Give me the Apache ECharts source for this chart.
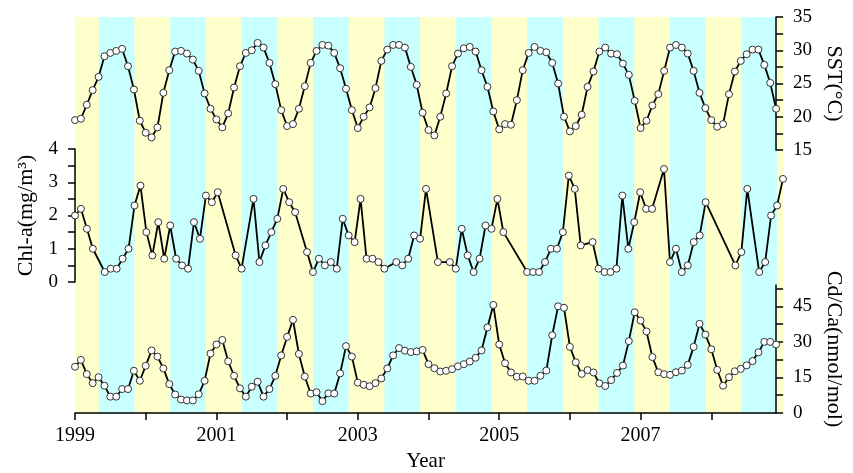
<!DOCTYPE html>
<html>
<head>
  <meta charset="utf-8" />
  <title>SST, Chl-a and Cd/Ca</title>
  <script src="https://cdn.jsdelivr.net/npm/echarts@6.0.0/dist/echarts.min.js"></script>
  <style>
    html, body { margin: 0; padding: 0; background: #fff; }
    #main { width: 853px; height: 473px; }
  </style>
</head>
<body>
  <div id="main"></div>
  <script>
    // monthly series, Jan 1999 .. Dec 2008
    var startYear = 1999;

    // SST (°C)
    var sst = [
      19.5, 19.7, 21.8, 24.0, 26.0, 29.1, 29.6, 29.9, 30.2, 27.6, 24.1, 19.4,
      17.6, 16.9, 18.4, 23.6, 27.0, 29.8, 29.9, 29.5, 28.6, 26.9, 23.5, 21.2,
      19.6, 18.4, 20.5, 24.4, 27.6, 29.6, 30.0, 31.1, 30.4, 28.1, 24.9, 21.0,
      18.6, 18.9, 21.2, 24.6, 28.1, 29.9, 30.8, 30.7, 29.6, 27.3, 24.2, 21.0,
      18.3, 20.0, 21.4, 24.3, 28.4, 30.1, 30.8, 30.8, 30.4, 27.5, 24.8, 20.6,
      18.0, 17.2, 20.0, 23.5, 27.6, 29.5, 30.3, 30.5, 29.8, 27.0, 24.5, 20.8,
      18.1, 18.9, 18.8, 22.5, 27.0, 29.6, 30.5, 29.9, 29.7, 28.1, 25.0, 20.0,
      17.8, 18.6, 20.3, 24.5, 26.8, 29.8, 30.4, 29.5, 29.4, 28.0, 26.3, 22.4,
      18.3, 19.4, 21.7, 23.4, 26.9, 30.4, 30.8, 30.4, 29.5, 26.9, 23.6, 21.3,
      19.5, 18.5, 18.9, 23.4, 26.8, 28.4, 29.4, 30.1, 30.1, 27.8, 25.1, 21.2
    ];

    // Chl-a (mg/m3), only the months that have a value (0 = Jan 1999)
    var chlMonth = [
      0, 1, 2, 3, 5, 6, 7, 8, 9, 10, 11,
      12, 13, 14, 15, 16, 17, 18, 19, 20, 21, 22, 23,
      24, 27, 28, 30, 31, 32, 33, 34, 35,
      36, 37, 39, 40, 41, 42, 43, 44, 45, 46, 47,
      48, 49, 50, 51, 52, 54, 55, 56, 57, 58, 59,
      61, 63, 64, 65, 66, 67, 68, 69, 70, 71,
      72, 76, 77, 78, 79, 80, 81, 82, 83,
      84, 85, 87, 88, 89, 90, 91, 92, 93, 94, 95,
      96, 97, 99, 100, 101, 102, 103, 104, 105, 106,
      111, 112, 113, 115, 116, 117, 118, 119
    ];
    var chlValue = [
      2.0, 2.2, 1.6, 1.0, 0.3, 0.4, 0.4, 0.7, 1.0, 2.3, 2.9,
      1.5, 0.8, 1.8, 0.7, 1.7, 0.7, 0.5, 0.4, 1.8, 1.3, 2.6, 2.4,
      2.7, 0.8, 0.4, 2.5, 0.6, 1.1, 1.5, 1.9, 2.8,
      2.4, 2.1, 0.9, 0.3, 0.7, 0.5, 0.6, 0.4, 1.9, 1.4, 1.2,
      2.5, 0.7, 0.7, 0.6, 0.4, 0.6, 0.5, 0.7, 1.4, 1.3, 2.8,
      0.6, 0.6, 0.4, 1.6, 0.8, 0.3, 0.7, 1.7, 1.6, 2.5,
      1.5, 0.3, 0.3, 0.3, 0.6, 1.0, 1.0, 1.5, 3.2,
      2.8, 1.1, 1.2, 0.4, 0.3, 0.3, 0.4, 2.6, 1.0, 1.8, 2.7,
      2.2, 2.2, 3.4, 0.6, 1.0, 0.3, 0.5, 1.2, 1.4, 2.4,
      0.5, 0.9, 2.8, 0.3, 0.6, 2.0, 2.3, 3.1
    ];

    // Cd/Ca (nmol/mol)
    var cdca = [
      19.5, 22.4, 16.4, 12.6, 15.1, 11.5, 6.9, 6.9, 10.1, 10.1, 17.8, 13.6,
      19.9, 26.4, 23.8, 18.8, 12.2, 7.8, 5.7, 5.3, 5.3, 7.9, 13.6, 25.1,
      28.9, 30.8, 21.8, 15.7, 10.4, 6.9, 11.1, 13.2, 6.9, 10.1, 15.7, 24.3,
      32.1, 39.3, 24.9, 15.4, 8.2, 8.8, 5.0, 8.3, 8.2, 16.7, 28.2, 23.8,
      12.8, 11.9, 11.3, 12.6, 14.6, 18.8, 24.3, 27.4, 26.3, 25.7, 26.0, 26.6,
      20.6, 18.9, 17.5, 17.8, 18.5, 19.7, 20.6, 21.7, 23.3, 26.4, 36.1, 45.6,
      28.9, 21.0, 17.1, 15.3, 15.4, 13.6, 13.6, 15.7, 17.9, 32.8, 45.0, 44.4,
      27.9, 21.4, 16.5, 18.1, 17.1, 12.5, 11.4, 13.9, 16.9, 20.0, 30.3, 42.5,
      39.0, 34.4, 23.6, 17.2, 16.4, 16.1, 17.2, 17.9, 20.3, 27.9, 37.6, 33.1,
      26.9, 18.2, 11.5, 15.1, 17.6, 18.6, 20.1, 21.9, 25.6, 30.0, 30.0, 28.9
    ];

    // axis ticks / labels
    var yearTicks = [1999, 2000, 2001, 2002, 2003, 2004, 2005, 2006, 2007, 2008];
    var yearLabels = [1999, 2001, 2003, 2005, 2007];
    var cdTicks = [0, 7.5, 15, 22.5, 30, 37.5, 45, 52.5];
    var cdLabels = [0, 15, 30, 45];

    // cyan bands: May - Oct of every year
    var bandStartMonth = 4;
    var bandEndMonth = 10;

    function monthToYear(i) {
      return startYear + i / 12;
    }

    var sstData = sst.map(function (v, i) { return [monthToYear(i), v]; });
    var chlData = chlMonth.map(function (m, k) { return [monthToYear(m), chlValue[k]]; });
    var cdData = cdca.map(function (v, i) { return [monthToYear(i), v]; });
    var bands = yearTicks.map(function (y) {
      return [y + bandStartMonth / 12, y + bandEndMonth / 12];
    });

    var xMin = startYear;
    var xMax = monthToYear(sst.length - 1);

    var font = 'Liberation Serif';
    var black = '#000';

    var lineStyleOf = {
      type: 'line',
      symbol: 'circle',
      symbolSize: 7,
      showAllSymbol: true,
      itemStyle: { color: '#fff', borderColor: '#333', borderWidth: 1 },
      lineStyle: { color: black, width: 1.8 },
      z: 3
    };

    function xAxisHidden(gi) {
      return { type: 'value', gridIndex: gi, min: xMin, max: xMax, show: false };
    }

    var myChart = echarts.init(document.getElementById('main'), null, { renderer: 'canvas' });

    var option = {
      animation: false,
      backgroundColor: '#fff',
      grid: [
        // background (yellow, cyan bands drawn on top)
        { left: 75, right: 70, top: 17, bottom: 59, show: true, backgroundColor: '#FFFFCC', borderWidth: 0 },
        // SST
        { left: 75, right: 70, top: 17, bottom: 323 },
        // Chl-a
        { left: 75, right: 70, top: 149, bottom: 191 },
        // Cd/Ca
        { left: 75, right: 70, top: 285, bottom: 59 }
      ],
      xAxis: [
        xAxisHidden(0),
        xAxisHidden(1),
        xAxisHidden(2),
        {
          type: 'value', gridIndex: 3, min: xMin, max: xMax,
          name: 'Year', nameLocation: 'middle', nameGap: 38,
          nameTextStyle: { fontFamily: font, fontSize: 21, color: black },
          axisLine: { lineStyle: { color: black, width: 1.5 } },
          axisTick: { length: 7, lineStyle: { color: black, width: 1.5 }, customValues: yearTicks },
          axisLabel: {
            customValues: yearLabels, fontFamily: font, fontSize: 20, color: black, margin: 13,
            formatter: function (v) { return String(Math.round(v)); }
          },
          splitLine: { show: false }
        }
      ],
      yAxis: [
        { type: 'value', gridIndex: 0, min: 0, max: 1, show: false },
        {
          type: 'value', gridIndex: 1, position: 'right', min: 15, max: 35, interval: 2.5,
          name: 'SST(°C)', nameLocation: 'middle', nameRotate: -90, nameGap: 40,
          nameTextStyle: { fontFamily: font, fontSize: 22, color: black },
          axisLine: { show: true, lineStyle: { color: black, width: 1.5 } },
          axisTick: { show: true, length: 7, lineStyle: { color: black, width: 1.5 } },
          axisLabel: {
            fontFamily: font, fontSize: 19, color: black, margin: 17,
            formatter: function (v) { return v % 5 === 0 ? String(v) : ''; }
          },
          splitLine: { show: false }
        },
        {
          type: 'value', gridIndex: 2, position: 'left', min: 0, max: 4, interval: 0.5,
          name: 'Chl-a(mg/m³)', nameLocation: 'middle', nameRotate: 90, nameGap: 36,
          nameTextStyle: { fontFamily: font, fontSize: 22, color: black },
          axisLine: { show: true, lineStyle: { color: black, width: 1.5 } },
          axisTick: { show: true, length: 7, lineStyle: { color: black, width: 1.5 } },
          axisLabel: {
            fontFamily: font, fontSize: 19, color: black, margin: 17,
            formatter: function (v) { return v % 1 === 0 ? String(v) : ''; }
          },
          splitLine: { show: false }
        },
        {
          type: 'value', gridIndex: 3, position: 'right', min: 0, max: 54,
          name: 'Cd/Ca(nmol/mol)', nameLocation: 'middle', nameRotate: -90, nameGap: 40,
          nameTextStyle: { fontFamily: font, fontSize: 22, color: black },
          axisLine: { show: true, lineStyle: { color: black, width: 1.5 } },
          axisTick: { show: true, length: 7, lineStyle: { color: black, width: 1.5 }, customValues: cdTicks },
          axisLabel: { customValues: cdLabels, fontFamily: font, fontSize: 19, color: black, margin: 17 },
          splitLine: { show: false }
        }
      ],
      series: [
        {
          type: 'custom',
          xAxisIndex: 0,
          yAxisIndex: 0,
          z: 0,
          silent: true,
          data: bands,
          encode: { x: [0, 1] },
          renderItem: function (params, api) {
            var p0 = api.coord([api.value(0), 1]);
            var p1 = api.coord([api.value(1), 0]);
            return {
              type: 'rect',
              shape: { x: p0[0], y: p0[1], width: p1[0] - p0[0], height: p1[1] - p0[1] },
              style: { fill: '#C8FFFF' }
            };
          }
        },
        Object.assign({}, lineStyleOf, { name: 'SST', xAxisIndex: 1, yAxisIndex: 1, data: sstData }),
        Object.assign({}, lineStyleOf, { name: 'Chl-a', xAxisIndex: 2, yAxisIndex: 2, data: chlData }),
        Object.assign({}, lineStyleOf, { name: 'Cd/Ca', xAxisIndex: 3, yAxisIndex: 3, data: cdData })
      ]
    };

    myChart.setOption(option);
  </script>
</body>
</html>
